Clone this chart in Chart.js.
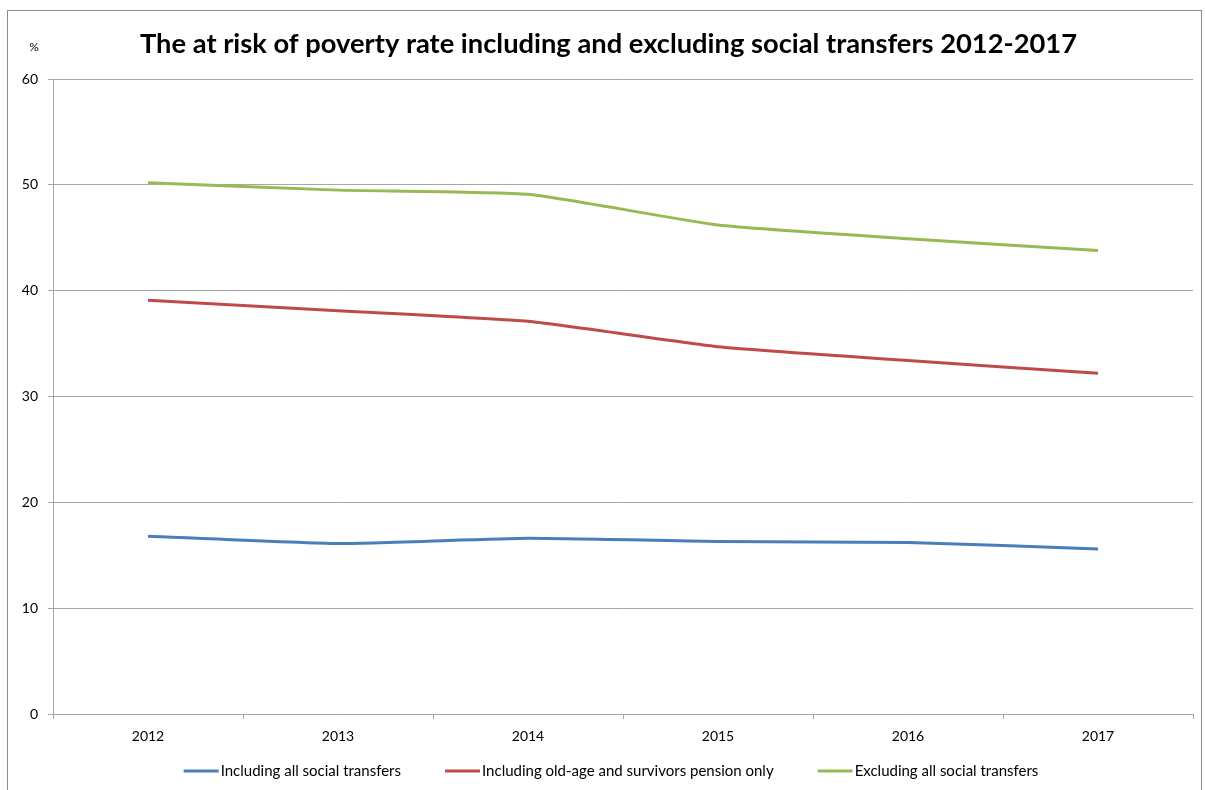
<!DOCTYPE html>
<html>
<head>
<meta charset="utf-8">
<script src="https://cdn.jsdelivr.net/npm/chart.js@4.4.1/dist/chart.umd.min.js"></script>
<style>
  body { margin: 0; background: #fff; }
  #wrap { position: relative; width: 1205px; height: 790px; overflow: hidden; }
  #frame { position: absolute; left: 7px; top: 10px; width: 1195px; height: 800px; border: 1px solid #8c8c8c; box-sizing: border-box; }
  canvas { position: absolute; left: 0; top: 0; }
</style>
</head>
<body>
<div id="wrap">
  <div id="frame"></div>
  <canvas id="grafico" width="1205" height="790"></canvas>
</div>
<script>
// datos
const years = ['2012', '2013', '2014', '2015', '2016', '2017'];
const inclAll = [16.8, 16.1, 16.6, 16.3, 16.2, 15.6];
const inclPension = [39.1, 38.1, 37.1, 34.7, 33.4, 32.2];
const exclAll = [50.2, 49.5, 49.1, 46.2, 44.9, 43.8];
const yTicks = [0, 10, 20, 30, 40, 50, 60];
const titulo = 'The at risk of poverty rate including and excluding social transfers 2012-2017';

const fuente = 'Lato, "Open Sans", sans-serif';
const gris = '#a6a6a6';

// titulo y el "%" arriba del eje y
const textos = {
    id: 'textos',
    afterDraw(chart) {
        const ctx = chart.ctx;
        ctx.save();
        ctx.fillStyle = '#000';
        ctx.textAlign = 'center';
        ctx.textBaseline = 'middle';
        ctx.font = 'bold 27.3px ' + fuente;
        ctx.fillText(titulo, 608.5, 44);
        ctx.font = '12px ' + fuente;
        ctx.fillText('%', 34, 47);
        ctx.restore();
    }
};

// leyenda abajo, estilo excel (linea corta + texto)
const leyenda = {
    id: 'leyenda',
    afterDraw(chart) {
        const ctx = chart.ctx;
        const sets = chart.data.datasets;
        const linea = 35, sep = 2, hueco = 44, yc = 771;
        ctx.save();
        ctx.font = '15px ' + fuente;
        const anchos = sets.map(d => ctx.measureText(d.label).width);
        let total = 0;
        anchos.forEach(w => total += linea + sep + w);
        total += hueco * (sets.length - 1);
        let x = 611 - total / 2;
        sets.forEach((d, i) => {
            ctx.strokeStyle = d.borderColor;
            ctx.lineWidth = 3;
            ctx.beginPath();
            ctx.moveTo(x, yc);
            ctx.lineTo(x + linea, yc);
            ctx.stroke();
            ctx.fillStyle = '#000';
            ctx.textAlign = 'left';
            ctx.textBaseline = 'middle';
            ctx.fillText(d.label, x + linea + sep, yc);
            x += linea + sep + anchos[i] + hueco;
        });
        ctx.restore();
    }
};

function serie(label, data, color) {
    return {
        label: label,
        data: data,
        borderColor: color,
        backgroundColor: color,
        borderWidth: 3,
        pointRadius: 0,
        tension: 0.15,
        fill: false
    };
}

new Chart(document.getElementById('grafico'), {
    type: 'line',
    data: {
        labels: years,
        datasets: [
            serie('Including all social transfers', inclAll, '#4a7ebb'),
            serie('Including old-age and survivors pension only', inclPension, '#be4b48'),
            serie('Excluding all social transfers', exclAll, '#98b954')
        ]
    },
    options: {
        responsive: false,
        animation: false,
        layout: { padding: { left: 0, right: 12, top: 79, bottom: 0 } },
        plugins: {
            tooltip: { enabled: false },
            legend: { display: false },
            title: { display: false }
        },
        scales: {
            x: {
                offset: true,
                grid: {
                    offset: true,
                    drawOnChartArea: false,
                    drawTicks: true,
                    tickLength: 5,
                    color: gris
                },
                border: { display: true, color: gris, width: 1 },
                ticks: {
                    color: '#000',
                    font: { family: fuente, size: 14 },
                    padding: 9,
                    maxRotation: 0
                },
                afterFit(s) { s.height = 790 - 714; }
            },
            y: {
                min: 0,
                max: 60,
                afterBuildTicks(s) { s.ticks = yTicks.map(v => ({ value: v })); },
                grid: {
                    color: gris,
                    drawTicks: true,
                    tickLength: 5
                },
                border: { display: true, color: gris, width: 1 },
                ticks: {
                    color: '#000',
                    font: { family: fuente, size: 14 },
                    padding: 10
                },
                afterFit(s) { s.width = 53; }
            }
        }
    },
    plugins: [textos, leyenda]
});
</script>
</body>
</html>
